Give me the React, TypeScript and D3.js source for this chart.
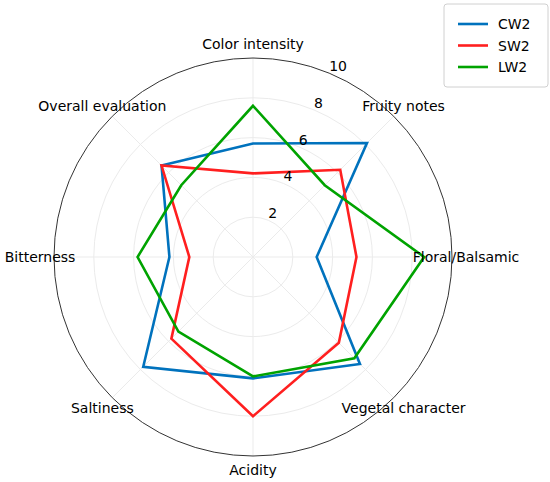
import React, { useEffect, useRef } from 'react';
import * as d3 from 'd3';

const categories = [
  'Color intensity',
  'Fruity notes',
  'Floral/Balsamic',
  'Vegetal character',
  'Acidity',
  'Saltiness',
  'Bitterness',
  'Overall evaluation',
];

const seriesNames = ['CW2', 'SW2', 'LW2'];
const cw2 = [5.7, 8.1, 3.2, 7.6, 6.1, 7.8, 4.2, 6.5];
const sw2 = [4.2, 6.2, 5.2, 6.1, 8.0, 5.8, 3.2, 6.5];
const lw2 = [7.6, 5.1, 8.6, 7.2, 6.0, 5.3, 5.8, 5.1];
const radialTicks = [2, 4, 6, 8, 10];

const App: React.FC = () => {
  const svgRef = useRef<SVGSVGElement>(null);

  useEffect(() => {
    const W = 550;
    const H = 482;
    const cx = 253;
    const cy = 257;
    const R = 199;
    const font = 'DejaVu Sans, sans-serif';

    const svg = d3.select(svgRef.current);
    svg.selectAll('*').remove();
    svg.attr('width', W).attr('height', H).style('background', '#fff');

    const g = svg.append('g').attr('transform', `translate(${cx},${cy})`);

    const rScale = d3.scaleLinear().domain([0, 10]).range([0, R]);
    const angle = d3.scaleLinear()
      .domain([0, categories.length])
      .range([0, 2 * Math.PI]);

    const px = (i: number, v: number) => rScale(v) * Math.sin(angle(i));
    const py = (i: number, v: number) => -rScale(v) * Math.cos(angle(i));

    // grid circles
    g.selectAll('.grid-circle')
      .data(radialTicks.slice(0, -1))
      .enter()
      .append('circle')
      .attr('r', d => rScale(d))
      .attr('fill', 'none')
      .attr('stroke', '#ebebeb')
      .attr('stroke-width', 1);

    // spokes
    g.selectAll('.spoke')
      .data(categories)
      .enter()
      .append('line')
      .attr('x1', 0)
      .attr('y1', 0)
      .attr('x2', (_, i) => px(i, 10))
      .attr('y2', (_, i) => py(i, 10))
      .attr('stroke', '#ebebeb')
      .attr('stroke-width', 1);

    // outer circle
    g.append('circle')
      .attr('r', R)
      .attr('fill', 'none')
      .attr('stroke', '#333')
      .attr('stroke-width', 1);

    // series
    const colors = d3.scaleOrdinal<string>()
      .domain(seriesNames)
      .range(['#0072bd', '#ff1f1f', '#00a300']);
    const allSeries = [cw2, sw2, lw2];

    const line = d3.lineRadial<number>()
      .angle((_, i) => angle(i))
      .radius(d => rScale(d))
      .curve(d3.curveLinearClosed);

    allSeries.forEach((vals, k) => {
      g.append('path')
        .datum(vals)
        .attr('d', line)
        .attr('fill', 'none')
        .attr('stroke', colors(seriesNames[k]))
        .attr('stroke-width', 2.6)
        .attr('stroke-linejoin', 'miter');
    });

    // radial tick labels
    const labAng = (22.5 * Math.PI) / 180;
    g.selectAll('.rtick')
      .data(radialTicks)
      .enter()
      .append('text')
      .attr('x', d => rScale(d) * Math.sin(labAng))
      .attr('y', d => -rScale(d) * Math.cos(labAng) - 2)
      .style('font-family', font)
      .style('font-size', '14px')
      .style('fill', '#000')
      .text(d => d);

    // category labels
    g.selectAll('.cat')
      .data(categories)
      .enter()
      .append('text')
      .attr('x', (_, i) => 213 * Math.sin(angle(i)))
      .attr('y', (_, i) => -213 * Math.cos(angle(i)))
      .attr('text-anchor', 'middle')
      .attr('dominant-baseline', 'central')
      .style('font-family', font)
      .style('font-size', '14px')
      .style('fill', '#000')
      .text(d => d);

    // legend
    const legend = svg.append('g').attr('transform', 'translate(444,4)');
    legend.append('rect')
      .attr('x', 0)
      .attr('y', 0)
      .attr('width', 104)
      .attr('height', 83)
      .attr('rx', 3)
      .attr('fill', '#fff')
      .attr('fill-opacity', 0.8)
      .attr('stroke', '#d0d0d0');

    seriesNames.forEach((name, k) => {
      const y = 20 + k * 21.5;
      legend.append('line')
        .attr('x1', 14)
        .attr('x2', 44)
        .attr('y1', y)
        .attr('y2', y)
        .attr('stroke', colors(name))
        .attr('stroke-width', 2.6);
      legend.append('text')
        .attr('x', 54)
        .attr('y', y)
        .attr('dominant-baseline', 'central')
        .style('font-family', font)
        .style('font-size', '14px')
        .style('fill', '#000')
        .text(name);
    });
  }, []);

  return (
    <svg
      ref={svgRef}
      style={{ position: 'absolute', top: 0, left: 0, display: 'block' }}
    />
  );
};

export default App;
